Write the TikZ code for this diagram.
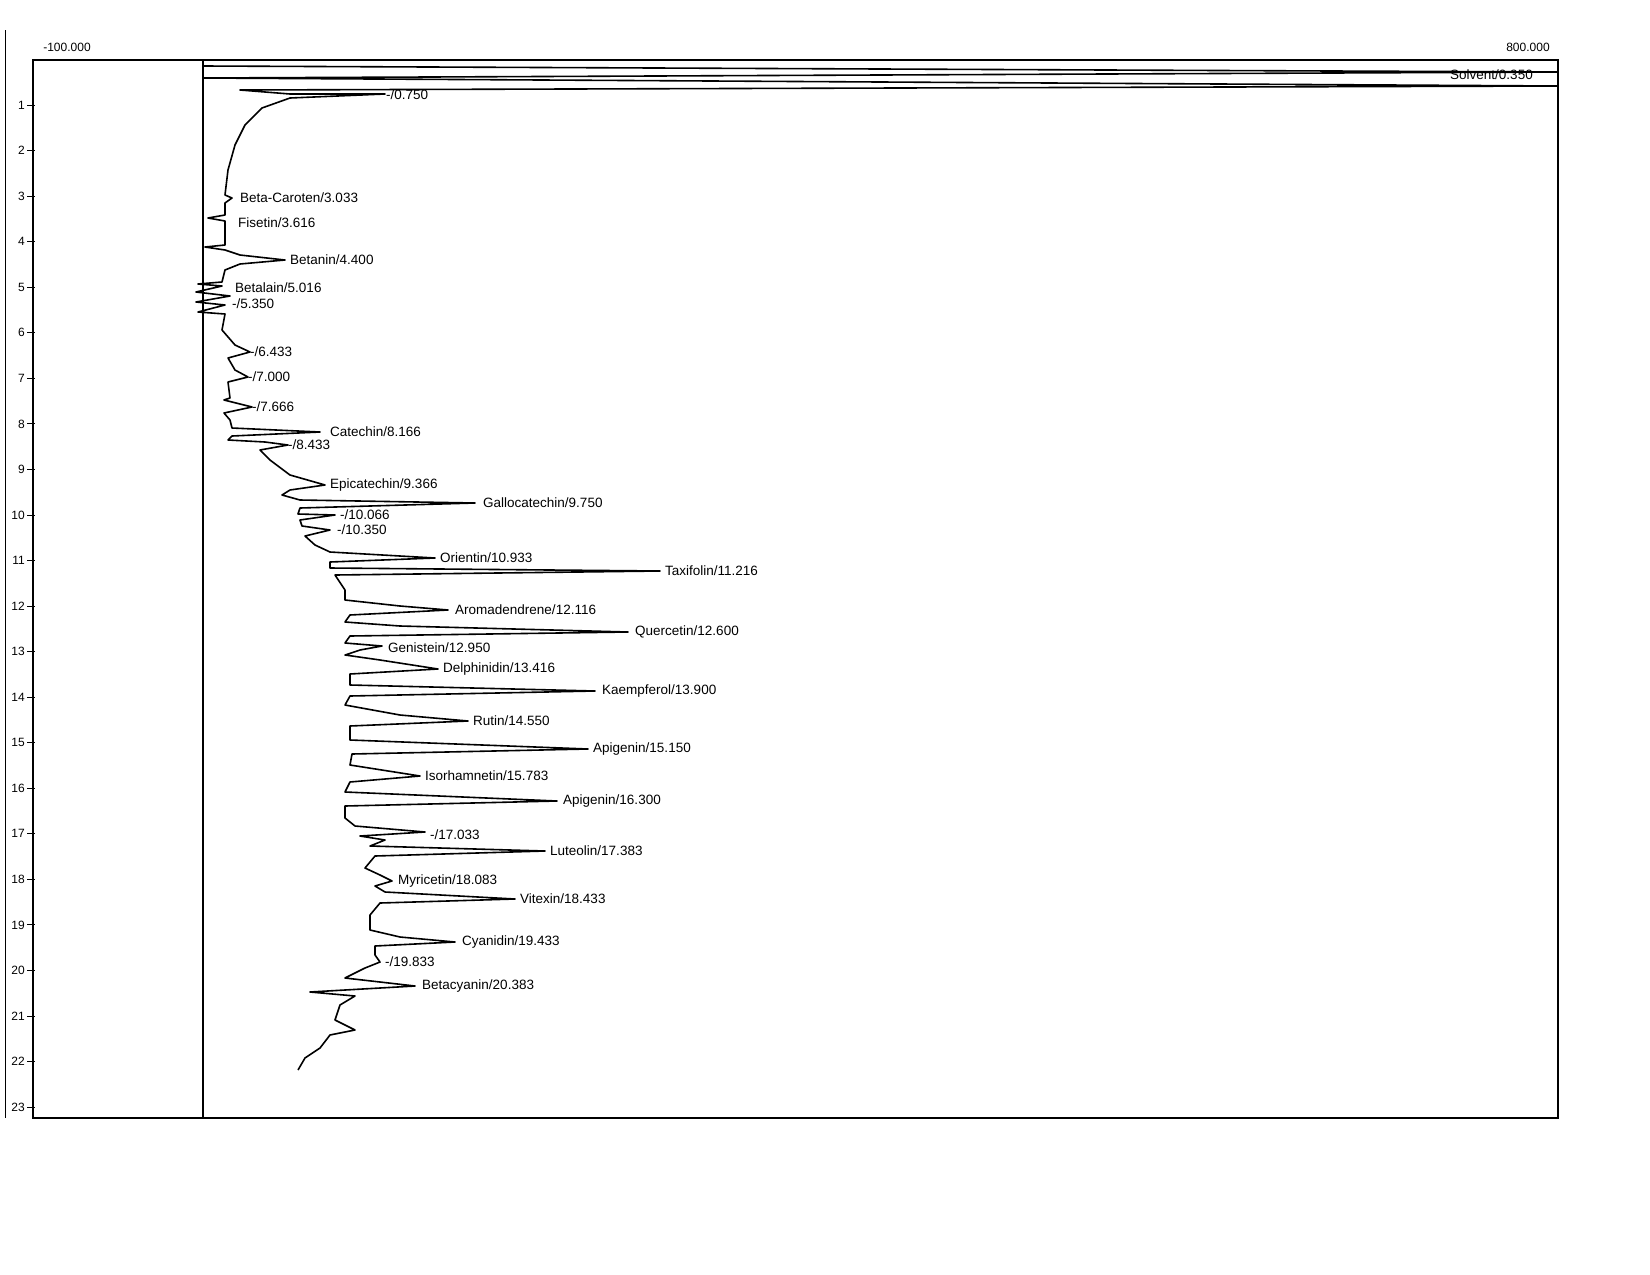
\documentclass[tikz,border=0pt]{standalone}
\usepackage{fontspec}
\setmainfont{Liberation Sans}
\begin{document}
\begin{tikzpicture}[x=1pt,y=-1pt,
  lab/.style={anchor=west,inner sep=0pt,font=\fontsize{13.5}{14}\selectfont},
  tk/.style={anchor=east,inner sep=0pt,font=\fontsize{12}{13}\selectfont},
  trace/.style={line width=1.6pt,line join=round}]
\useasboundingbox (0,0) rectangle (1650,1275);
\draw[line width=1.2pt] (33,60) rectangle (1558,1118);
\draw[line width=1.2pt] (203,60) -- (203,1118);
\draw[line width=0.6pt] (5,30) -- (5,1118);
\node[inner sep=0pt,font=\fontsize{12}{13}\selectfont] (xl) at (67,47) {-100.000};
\node[inner sep=0pt,font=\fontsize{12}{13}\selectfont] (xr) at (1528,47) {800.000};
\foreach \t in {1,...,23}{
  \draw[line width=1pt] (27,{59.5+45.55*\t}) -- (35,{59.5+45.55*\t});
  \node[tk] at (25,{59.5+45.55*\t}) {\t};
}
\draw[trace] (203,66) -- (1558,72) -- (203,78) -- (1558,86) -- (240,90) -- (290,94) -- (385,94) -- (290,98)
 -- (262,108) -- (245,125) -- (235,145) -- (228,170) -- (225,195) -- (232,198) -- (225,203)
 -- (225,215) -- (208,218) -- (225,221) -- (225,245) -- (205,247) -- (225,250) -- (240,255) -- (285,260) -- (240,264)
 -- (225,270) -- (222,282) -- (198,284) -- (222,286) -- (196,292) -- (230,296) -- (196,302) -- (225,305) -- (198,312) -- (225,314)
 -- (222,330) -- (235,345) -- (250,352) -- (228,358) -- (235,370) -- (248,377) -- (228,382)
 -- (230,398) -- (224,400) -- (252,407) -- (224,413) -- (230,420) -- (232,428) -- (320,432) -- (232,436) -- (228,440)
 -- (265,442) -- (288,445) -- (260,450) -- (270,460) -- (290,475) -- (325,485) -- (290,490) -- (282,495)
 -- (300,500) -- (475,503) -- (300,508) -- (298,514) -- (335,515) -- (300,520) -- (302,526) -- (330,530) -- (305,536)
 -- (315,545) -- (330,552) -- (435,558) -- (330,562) -- (330,568) -- (660,571) -- (335,575) -- (345,590)
 -- (345,600) -- (400,606) -- (448,610) -- (350,615) -- (345,622) -- (400,626) -- (628,632) -- (350,636)
 -- (345,643) -- (382,646) -- (360,650) -- (345,655) -- (380,660) -- (438,669) -- (350,674) -- (350,685) -- (595,691) -- (350,696)
 -- (345,705) -- (400,715) -- (468,721) -- (350,726) -- (350,740) -- (588,749) -- (352,754)
 -- (350,765) -- (420,776) -- (350,782) -- (345,792) -- (557,801) -- (345,806)
 -- (345,818) -- (355,826) -- (425,832) -- (360,836) -- (385,840) -- (370,846) -- (545,851) -- (375,856) -- (365,868)
 -- (380,875) -- (392,881) -- (375,886) -- (385,892) -- (515,899) -- (380,903) -- (370,915)
 -- (370,930) -- (400,937) -- (455,942) -- (375,946) -- (375,955) -- (380,962) -- (365,968) -- (345,978) -- (380,982)
 -- (415,986) -- (310,992) -- (355,996) -- (340,1005) -- (335,1020) -- (355,1030) -- (330,1035) -- (320,1048) -- (305,1058) -- (298,1070);
\node[lab] (s) at (1450,75) {Solvent/0.350};
\node[lab] (p1) at (386,95) {-/0.750};
\node[lab] (p2) at (240,198) {Beta-Caroten/3.033};
\node[lab] (p3) at (238,223) {Fisetin/3.616};
\node[lab] (p4) at (290,260) {Betanin/4.400};
\node[lab] (p5) at (235,288) {Betalain/5.016};
\node[lab] (p6) at (232,304) {-/5.350};
\node[lab] (p7) at (250,352) {-/6.433};
\node[lab] (p8) at (248,377) {-/7.000};
\node[lab] (p9) at (252,407) {-/7.666};
\node[lab] (p10) at (330,432) {Catechin/8.166};
\node[lab] (p11) at (288,445) {-/8.433};
\node[lab] (p12) at (330,485) {Epicatechin/9.366};
\node[lab] (p13) at (483,503) {Gallocatechin/9.750};
\node[lab] (p14) at (340,515) {-/10.066};
\node[lab] (p15) at (337,530) {-/10.350};
\node[lab] (p16) at (440,558) {Orientin/10.933};
\node[lab] (p17) at (665,571) {Taxifolin/11.216};
\node[lab] (p18) at (455,610) {Aromadendrene/12.116};
\node[lab] (p19) at (635,632) {Quercetin/12.600};
\node[lab] (p20) at (388,648) {Genistein/12.950};
\node[lab] (p21) at (443,669) {Delphinidin/13.416};
\node[lab] (p22) at (602,691) {Kaempferol/13.900};
\node[lab] (p23) at (473,721) {Rutin/14.550};
\node[lab] (p24) at (593,749) {Apigenin/15.150};
\node[lab] (p25) at (425,776) {Isorhamnetin/15.783};
\node[lab] (p26) at (563,801) {Apigenin/16.300};
\node[lab] (p27) at (430,835) {-/17.033};
\node[lab] (p28) at (550,851) {Luteolin/17.383};
\node[lab] (p29) at (398,881) {Myricetin/18.083};
\node[lab] (p30) at (520,899) {Vitexin/18.433};
\node[lab] (p31) at (462,942) {Cyanidin/19.433};
\node[lab] (p32) at (385,962) {-/19.833};
\node[lab] (p33) at (422,986) {Betacyanin/20.383};
\end{tikzpicture}
\end{document}
